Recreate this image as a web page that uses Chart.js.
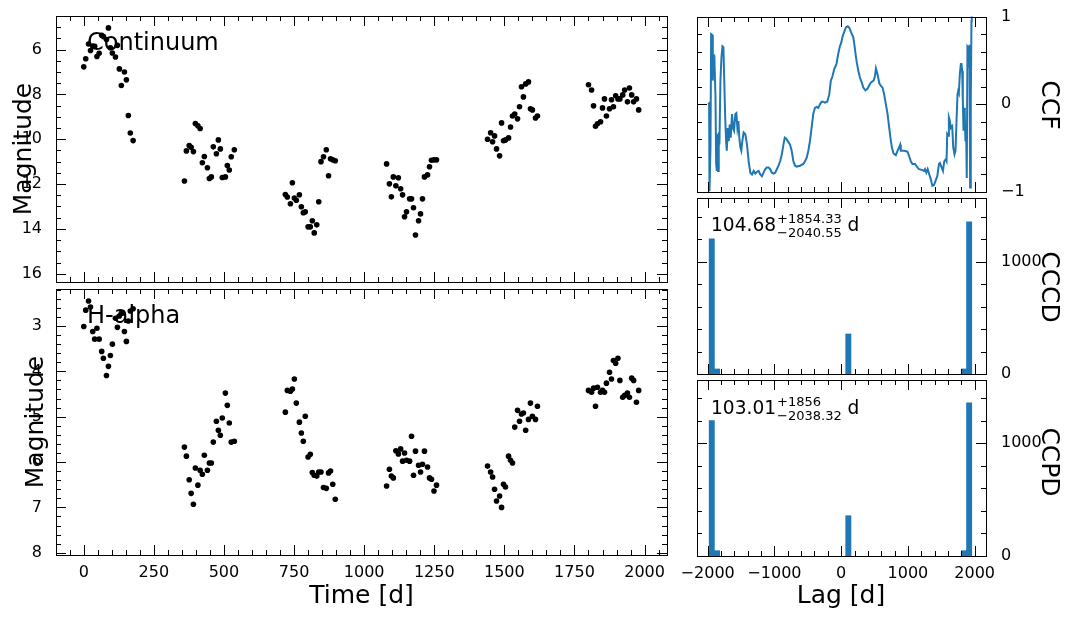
<!DOCTYPE html>
<html>
<head>
<meta charset="utf-8">
<script src="https://cdn.jsdelivr.net/npm/chart.js@4.4.1/dist/chart.umd.min.js"></script>
<style>
  body { margin: 0; background: #fff; }
  #wrap { position: relative; width: 1070px; height: 620px; }
  #wrap canvas { position: absolute; left: 0; top: 0; }
</style>
</head>
<body>
<div id="wrap">
  <canvas id="lc1" width="1070" height="620"></canvas>
  <canvas id="lc2" width="1070" height="620"></canvas>
  <canvas id="ccf" width="1070" height="620"></canvas>
  <canvas id="cccd" width="1070" height="620"></canvas>
  <canvas id="ccpd" width="1070" height="620"></canvas>
</div>
<script>
// ---- data ----
const days = [
  0, 7, 17, 24, 32, 39, 47, 55, 64, 70, 81, 88, 95, 102, 113, 120, 127, 134, 145, 152, 159, 166, 176,
  359, 366, 376, 383, 391, 398, 407, 415, 423, 430, 441, 448, 455, 462, 473, 480, 487, 494, 505, 512, 519, 526, 537,
  719, 726, 737, 744, 751, 758, 769, 776, 783, 790, 800, 808, 815, 822, 831, 838, 846, 855, 865, 873, 880, 888, 897,
  1080, 1090, 1097, 1104, 1113, 1122, 1130, 1137, 1144, 1151, 1162, 1169, 1176, 1183, 1194, 1201, 1208, 1215, 1226, 1233, 1240, 1249, 1258,
  1440, 1451, 1458, 1465, 1472, 1483, 1490, 1497, 1504, 1515, 1522, 1529, 1537, 1547, 1554, 1561, 1568, 1576, 1586, 1593, 1600, 1611, 1618,
  1800, 1811, 1818, 1825, 1832, 1843, 1850, 1857, 1864, 1875, 1882, 1889, 1897, 1905, 1912, 1922, 1929, 1939, 1946, 1954, 1961, 1971, 1979
];
const contMag = [
  6.77, 6.41, 5.75, 6.04, 5.84, 5.85, 6.31, 6.16, 5.36, 5.42, 5.55, 5.03, 5.92, 6.15, 6.33, 5.81, 6.86, 7.60, 7.00, 7.35, 8.94, 9.72, 10.06,
  11.86, 10.52, 10.28, 10.36, 10.55, 9.30, 9.40, 9.52, 11.05, 10.77, 11.27, 11.75, 11.68, 10.34, 10.65, 10.03, 10.43, 11.71, 11.68, 11.17, 11.37, 10.78, 10.47,
  12.47, 12.58, 12.88, 11.94, 12.62, 12.72, 12.48, 13.01, 13.28, 13.24, 13.91, 13.91, 13.64, 14.18, 13.82, 12.79, 11.00, 10.78, 10.47, 11.63, 10.87, 10.92, 10.96,
  11.10, 11.99, 12.57, 11.68, 12.08, 11.72, 12.21, 12.48, 13.46, 13.24, 12.66, 12.66, 13.06, 14.27, 13.64, 13.33, 12.66, 11.68, 11.59, 11.23, 10.94, 10.92, 10.92,
  10.00, 9.71, 10.11, 9.85, 10.43, 10.74, 9.27, 10.07, 10.03, 9.94, 9.45, 8.96, 8.87, 9.09, 8.55, 7.66, 8.11, 7.53, 7.44, 8.64, 8.69, 9.05, 8.96,
  7.57, 7.80, 8.51, 9.42, 9.31, 9.22, 8.60, 8.20, 8.96, 8.64, 8.24, 8.55, 8.06, 8.20, 8.20, 8.02, 7.80, 8.33, 7.71, 8.02, 8.33, 8.20, 8.69
];
const haMag = [
  3.01, 2.65, 2.45, 2.58, 3.12, 3.29, 3.05, 3.29, 3.56, 3.71, 4.09, 3.89, 3.65, 3.40, 2.83, 3.03, 2.78, 2.72, 3.12, 3.34, 2.89, 2.67, 2.62,
  5.67, 5.87, 6.39, 6.69, 6.93, 6.13, 6.51, 6.18, 6.27, 5.85, 6.18, 6.02, 6.02, 5.56, 5.10, 5.30, 5.41, 5.03, 4.48, 4.75, 5.14, 5.56, 5.54,
  4.90, 4.42, 4.44, 4.39, 4.17, 4.70, 5.12, 5.36, 5.54, 4.99, 5.89, 5.83, 6.23, 6.29, 6.31, 6.22, 6.22, 6.56, 6.58, 6.24, 6.20, 6.49, 6.82,
  6.53, 6.16, 6.31, 6.35, 5.75, 5.82, 5.71, 5.98, 5.80, 5.96, 5.98, 5.43, 6.29, 5.76, 6.07, 6.22, 6.05, 5.76, 6.11, 6.35, 6.38, 6.64, 6.51,
  6.09, 6.22, 6.33, 6.60, 6.86, 6.75, 7.00, 6.49, 6.55, 5.87, 5.96, 6.02, 5.23, 4.86, 5.10, 4.94, 4.92, 5.30, 5.06, 4.70, 4.99, 5.06, 4.77,
  4.42, 4.46, 4.37, 4.77, 4.35, 4.46, 4.42, 4.46, 4.26, 4.02, 4.17, 3.76, 3.82, 3.71, 4.20, 4.57, 4.53, 4.48, 4.57, 4.15, 4.20, 4.68, 4.42
];

const ccfLag = [
  -1992, -1978, -1973, -1958, -1948, -1933, -1923, -1918, -1908, -1898, -1883, -1873, -1863, -1853, -1844, -1834, -1824, -1809,
  -1794, -1779, -1764, -1754, -1739, -1724, -1714, -1699, -1684, -1670, -1655, -1635, -1620, -1605, -1585, -1570, -1555, -1540,
  -1526, -1511, -1496, -1481, -1461, -1436, -1411, -1386, -1361, -1336, -1311, -1287, -1262, -1237, -1212, -1187, -1163, -1138,
  -1113, -1088, -1063, -1038, -1014, -989, -964, -939, -914, -889, -865, -845, -825, -800, -766, -741, -716, -691, -666, -616,
  -567, -542, -517, -492, -468, -443, -418, -393, -368, -343, -318, -294, -269, -244, -209, -179, -155, -130, -105, -70, -45, -20,
  0, 24, 49, 74, 99, 124, 149, 183, 198, 213, 233, 258, 283, 308, 332, 362, 397, 422, 447, 486, 506, 521, 546, 571, 596, 620,
  645, 670, 695, 720, 745, 760, 784, 819, 844, 869, 884, 894, 943, 993, 1018, 1043, 1068, 1107, 1142, 1167, 1217, 1241, 1256,
  1276, 1296, 1316, 1341, 1366, 1390, 1415, 1440, 1465, 1480, 1505, 1525, 1544, 1564, 1579, 1589, 1604, 1614, 1629, 1644, 1664,
  1679, 1698, 1713, 1728, 1743, 1753, 1763, 1778, 1793, 1803, 1813, 1823, 1833, 1843, 1852, 1862, 1872, 1882, 1892, 1902, 1912,
  1922, 1932, 1942, 1952, 1957
];
const ccfVal = [
  0.00, 0.01, -0.99, -0.49, 0.80, 0.79, 0.27, 0.57, 0.46, 0.49, 0.08, -0.68, -0.76, -0.34, -0.76, -0.32, -0.46, 0.27,
  0.53, 0.66, 0.65, 0.34, -0.11, -0.42, -0.53, -0.27, -0.42, -0.23, -0.38, -0.11, -0.27, -0.30, -0.11, -0.10, -0.27, -0.19,
  -0.38, -0.49, -0.53, -0.42, -0.32, -0.34, -0.46, -0.65, -0.78, -0.80, -0.76, -0.79, -0.77, -0.76, -0.80, -0.82, -0.78, -0.74,
  -0.72, -0.72, -0.74, -0.78, -0.79, -0.78, -0.74, -0.70, -0.65, -0.57, -0.46, -0.38, -0.39, -0.42, -0.46, -0.53, -0.65, -0.70, -0.71, -0.70,
  -0.68, -0.65, -0.61, -0.53, -0.42, -0.27, -0.11, -0.04, -0.03, -0.04, 0.00, 0.03, 0.03, 0.02, 0.03, 0.11, 0.27, 0.32, 0.40, 0.46, 0.57, 0.66,
  0.70, 0.78, 0.835, 0.88, 0.89, 0.87, 0.82, 0.76, 0.68, 0.59, 0.48, 0.38, 0.30, 0.25, 0.19, 0.16, 0.18, 0.22, 0.25, 0.27, 0.32, 0.41, 0.34, 0.24, 0.21, 0.19,
  0.11, 0.00, -0.11, -0.27, -0.42, -0.49, -0.56, -0.58, -0.53, -0.49, -0.46, -0.53, -0.53, -0.54, -0.59, -0.65, -0.68, -0.68, -0.72, -0.74, -0.75, -0.76, -0.74,
  -0.78, -0.74, -0.79, -0.85, -0.93, -0.92, -0.87, -0.82, -0.68, -0.67, -0.72, -0.76, -0.65, -0.63, -0.65, -0.34, -0.36, -0.15, -0.19, -0.27, -0.25,
  -0.49, -0.57, -0.53, -0.19, 0.11, 0.15, 0.13, 0.34, 0.46, 0.46, 0.38, 0.04, -0.30, -0.04, -0.11, -0.42, -0.30, -0.84, 0.66, 0.65, 0.42,
  0.68, -0.95, 0.04, 0.95, 1.05
];

// histogram bins (centres) and counts
const binLag = [-1938.6, -1859.9, 107.5, 1839.0, 1917.6];
const cccdCount = [1202, 45, 356, 45, 1353];
const ccpdCount = [1200, 47, 357, 47, 1357];

// tick labels
const contTicks = [6, 8, 10, 12, 14, 16];
const haTicks = [3, 4, 5, 6, 7, 8];
const timeTicks = [0, 250, 500, 750, 1000, 1250, 1500, 1750, 2000];
const lagTicks = [-2000, -1000, 0, 1000, 2000];
const ccfTicks = [-1, 0, 1];
const histTicks = [0, 1000];

const FAMILY = 'DejaVu Sans';
const tickFont = { family: FAMILY, size: 16 };
const minus = v => String(v).replace('-', '\u2212');
const setTicks = list => s => { s.ticks = list.map(v => ({ value: v })); };

// inward major/minor ticks on all four sides + the frame
const boxTicks = {
  id: 'boxTicks',
  afterDraw(chart, args, opts) {
    const ctx = chart.ctx, a = chart.chartArea;
    const L = Math.round(a.left), R = Math.round(a.right), T = Math.round(a.top), B = Math.round(a.bottom);
    ctx.save();
    ctx.strokeStyle = '#000';
    ctx.lineWidth = 1;
    ctx.beginPath();
    ['x', 'y'].forEach(id => {
      const spec = opts[id];
      if (!spec) return;
      const s = chart.scales[id];
      const k0 = Math.ceil(s.min / spec.minor - 1e-9), k1 = Math.floor(s.max / spec.minor + 1e-9);
      for (let k = k0; k <= k1; k++) {
        const v = k * spec.minor;
        const r = v / spec.major;
        const len = Math.abs(r - Math.round(r)) < 1e-6 ? 10 : 5;
        const p = Math.round(s.getPixelForValue(v)) + 0.5;
        if (id === 'x') {
          ctx.moveTo(p, B); ctx.lineTo(p, B - len);
          ctx.moveTo(p, T); ctx.lineTo(p, T + len);
        } else {
          ctx.moveTo(L, p); ctx.lineTo(L + len, p);
          ctx.moveTo(R, p); ctx.lineTo(R - len, p);
        }
      }
    });
    ctx.stroke();
    ctx.strokeRect(L + 0.5, T + 0.5, R - L, B - T);
    ctx.restore();
  }
};

// free text: axis titles, panel names, lag annotations
const labels = {
  id: 'labels',
  afterDraw(chart, args, opts) {
    const ctx = chart.ctx;
    (opts.items || []).forEach(t => {
      ctx.save();
      ctx.fillStyle = '#000';
      ctx.textBaseline = 'alphabetic';
      ctx.textAlign = t.align || 'left';
      ctx.font = t.size + 'px "' + FAMILY + '"';
      ctx.translate(t.x, t.y);
      if (t.rot) ctx.rotate(t.rot * Math.PI / 180);
      ctx.fillText(t.text, 0, 0);
      if (t.sup) {
        let w = ctx.measureText(t.text).width + 1;
        ctx.font = t.small + 'px "' + FAMILY + '"';
        ctx.fillText(t.sup, w, -8);
        ctx.fillText(t.sub, w, 5.5);
        w += Math.max(ctx.measureText(t.sup).width, ctx.measureText(t.sub).width);
        ctx.font = t.size + 'px "' + FAMILY + '"';
        ctx.fillText(' d', w, 0);
      }
      ctx.restore();
    });
  }
};
Chart.register(boxTicks, labels);

function baseOptions(pad) {
  return {
    animation: false,
    responsive: false,
    events: [],
    layout: { padding: pad },
    plugins: { legend: { display: false }, tooltip: { enabled: false } }
  };
}
const hidden = { display: true, ticks: { display: false }, grid: { display: false }, border: { display: false } };

// ---- Continuum light curve ----
const o1 = baseOptions({ left: 0, right: 403, top: 16, bottom: 338 });
o1.scales = {
  x: Object.assign({ type: 'linear', min: -99, max: 2080, afterFit: s => { s.height = 0; } }, hidden),
  y: {
    type: 'linear', reverse: true, min: 4.5, max: 16.37,
    afterBuildTicks: setTicks(contTicks),
    afterFit: s => { s.width = 56; },
    ticks: { font: tickFont, color: '#000', padding: 6, callback: v => String(v) },
    grid: { display: false }, border: { display: false }
  }
};
o1.plugins.boxTicks = { x: { major: 250, minor: 50 }, y: { major: 2, minor: 0.5 } };
o1.plugins.labels = { items: [
  { text: 'Continuum', x: 87, y: 50, size: 24 },
  { text: 'Magnitude', x: 31, y: 149, size: 25, rot: -90, align: 'center' }
] };
new Chart(document.getElementById('lc1'), {
  type: 'scatter',
  data: { datasets: [{ data: days.map((d, i) => ({ x: d, y: contMag[i] })), backgroundColor: '#000', borderWidth: 0, pointRadius: 2.8 }] },
  options: o1
});

// ---- H-alpha light curve ----
const o2 = baseOptions({ left: 0, right: 403, top: 289, bottom: 25 });
o2.scales = {
  x: {
    type: 'linear', min: -99, max: 2080,
    afterBuildTicks: setTicks(timeTicks),
    afterFit: s => { s.height = 40; },
    ticks: { font: tickFont, color: '#000', padding: 0, maxRotation: 0, autoSkip: false, callback: v => minus(v) },
    grid: { display: false }, border: { display: false }
  },
  y: {
    type: 'linear', reverse: true, min: 2.184, max: 8.05,
    afterBuildTicks: setTicks(haTicks),
    afterFit: s => { s.width = 56; },
    ticks: { font: tickFont, color: '#000', padding: 6, callback: v => String(v) },
    grid: { display: false }, border: { display: false }
  }
};
o2.plugins.boxTicks = { x: { major: 250, minor: 50 }, y: { major: 1, minor: 0.2 } };
o2.plugins.labels = { items: [
  { text: 'H-alpha', x: 87, y: 323, size: 24 },
  { text: 'Magnitude', x: 43, y: 422, size: 25, rot: -90, align: 'center' },
  { text: 'Time [d]', x: 361.5, y: 603, size: 25, align: 'center' }
] };
new Chart(document.getElementById('lc2'), {
  type: 'scatter',
  data: { datasets: [{ data: days.map((d, i) => ({ x: d, y: haMag[i] })), backgroundColor: '#000', borderWidth: 0, pointRadius: 2.8 }] },
  options: o2
});

// ---- CCF ----
const o3 = baseOptions({ left: 697, right: 24, top: 16, bottom: 428 });
o3.scales = {
  x: Object.assign({ type: 'linear', min: -2160, max: 2170, afterFit: s => { s.height = 0; } }, hidden),
  y: {
    type: 'linear', position: 'right', min: -1, max: 1,
    afterBuildTicks: setTicks(ccfTicks),
    afterFit: s => { s.width = 60; },
    ticks: { font: tickFont, color: '#000', padding: 7, callback: v => minus(v) },
    grid: { display: false }, border: { display: false }
  }
};
o3.plugins.boxTicks = { x: { major: 1000, minor: 200 }, y: { major: 1, minor: 0.2 } };
o3.plugins.labels = { items: [
  { text: 'CCF', x: 1042, y: 105, size: 25, rot: 90, align: 'center' }
] };
new Chart(document.getElementById('ccf'), {
  type: 'line',
  data: { datasets: [{ data: ccfLag.map((l, i) => ({ x: l, y: ccfVal[i] })), borderColor: '#1f77b4', borderWidth: 2, pointRadius: 0, tension: 0, fill: false }] },
  options: o3
});

// ---- CCCD / CCPD histograms ----
function histChart(id, counts, top, yMax, showX, title, titleY, text, sup, sub, textY) {
  const o = baseOptions({ left: 697, right: 24, top: top, bottom: showX ? 24 : 620 - top - 176 });
  o.scales = {
    x: showX ? {
      type: 'linear', min: -2160, max: 2170, offset: false,
      afterBuildTicks: setTicks(lagTicks),
      afterFit: s => { s.height = 40; },
      ticks: { font: tickFont, color: '#000', padding: 0, maxRotation: 0, autoSkip: false, callback: v => minus(v) },
      grid: { display: false }, border: { display: false }
    } : Object.assign({ type: 'linear', min: -2160, max: 2170, offset: false, afterFit: s => { s.height = 0; } }, hidden),
    y: {
      type: 'linear', position: 'right', min: 0, max: yMax,
      afterBuildTicks: setTicks(histTicks),
      afterFit: s => { s.width = 60; },
      ticks: { font: tickFont, color: '#000', padding: 7, callback: v => String(v) },
      grid: { display: false }, border: { display: false }
    }
  };
  o.plugins.boxTicks = { x: { major: 1000, minor: 200 }, y: { major: 1000, minor: 200 } };
  const items = [
    { text: title, x: 1042, y: titleY, size: 25, rot: 90, align: 'center' },
    { text: text, x: 711, y: textY, size: 18.6, small: 13, sup: sup, sub: sub }
  ];
  if (showX) items.push({ text: 'Lag [d]', x: 841, y: 603, size: 25, align: 'center' });
  o.plugins.labels = { items: items };
  new Chart(document.getElementById(id), {
    type: 'bar',
    data: { datasets: [{
      data: binLag.map((l, i) => ({ x: l, y: counts[i] })),
      backgroundColor: '#1f77b4', borderWidth: 0, barPercentage: 1, categoryPercentage: 1
    }] },
    options: o
  });
}
histChart('cccd', cccdCount, 198, 1565, false, 'CCCD', 287, '104.68', '+1854.33', '\u22122040.55', 231);
histChart('ccpd', ccpdCount, 380, 1560, true, 'CCPD', 462, '103.01', '+1856', '\u22122038.32', 414);
</script>
</body>
</html>
